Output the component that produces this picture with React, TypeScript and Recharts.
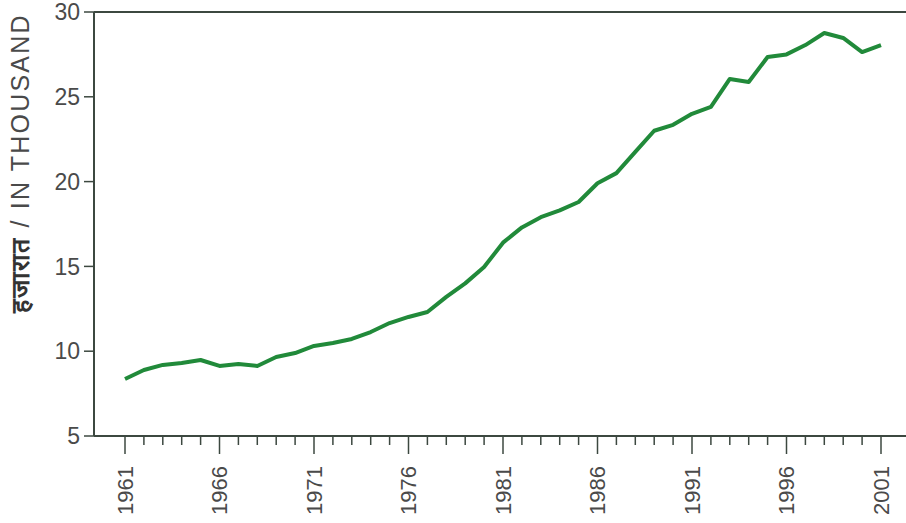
import { LineChart, Line, XAxis, YAxis, ReferenceLine } from 'recharts';

const YEARS = [
  1961, 1962, 1963, 1964, 1965, 1966, 1967, 1968, 1969, 1970,
  1971, 1972, 1973, 1974, 1975, 1976, 1977, 1978, 1979, 1980,
  1981, 1982, 1983, 1984, 1985, 1986, 1987, 1988, 1989, 1990,
  1991, 1992, 1993, 1994, 1995, 1996, 1997, 1998, 1999, 2000, 2001,
];

const VALUES = [
  8.36, 8.89, 9.19, 9.3, 9.48, 9.13, 9.25, 9.13, 9.66, 9.89,
  10.31, 10.48, 10.72, 11.13, 11.66, 12.02, 12.31, 13.2, 14.0, 14.96,
  16.4, 17.3, 17.9, 18.3, 18.8, 19.9, 20.5, 21.75, 23.0, 23.35,
  24.0, 24.4, 26.05, 25.87, 27.35, 27.5, 28.05, 28.76, 28.47, 27.64, 28.05,
];

const Y_TICKS = [5, 10, 15, 20, 25, 30];
const LABEL_YEARS = [1961, 1966, 1971, 1976, 1981, 1986, 1991, 1996, 2001];
const Y_LABEL_LOCAL = 'हजारात';
const Y_LABEL_EN = ' / IN THOUSAND';

const data = YEARS.map((year, i) => ({ year, value: VALUES[i] }));

const AXIS = '#3c4840';
const TEXT = '#4a4a4a';
const FONT = 'Liberation Sans, Arial, sans-serif';

const YearTick = (props: any) => {
  const { x, y, payload } = props;
  const major = LABEL_YEARS.includes(payload.value);
  return (
    <g>
      <line x1={x} x2={x} y1={y} y2={y + (major ? 18 : 9)} stroke={AXIS} strokeWidth={1.5} />
      {major && (
        <text
          x={x}
          y={y + 30}
          transform={`rotate(-90 ${x} ${y + 30})`}
          textAnchor="end"
          dominantBaseline="central"
          fill={TEXT}
          fontSize={22}
          fontFamily={FONT}
        >
          {payload.value}
        </text>
      )}
    </g>
  );
};

// axis title, centred beside the plot
const YTitle = (props: any) => {
  const { viewBox } = props;
  const cx = 20;
  const cy = viewBox.y + viewBox.height * 0.357;
  return (
    <text
      x={cx}
      y={cy}
      transform={`rotate(-90 ${cx} ${cy})`}
      textAnchor="middle"
      dominantBaseline="central"
      fill={TEXT}
      fontSize={25}
      fontFamily={FONT}
      letterSpacing={2.2}
    >
      <tspan fontWeight="bold" fill="#333">{Y_LABEL_LOCAL}</tspan>
      <tspan>{Y_LABEL_EN}</tspan>
    </text>
  );
};

export default function App() {
  return (
    <div style={{ position: 'absolute', left: 0, top: 0, background: '#fff' }}>
      <LineChart
        width={906}
        height={523}
        data={data}
        margin={{ top: 12, right: 0, left: 0, bottom: 0 }}
      >
        <XAxis
          dataKey="year"
          type="number"
          domain={[1961, 2001]}
          ticks={YEARS}
          interval={0}
          padding={{ left: 31, right: 25 }}
          height={87}
          tickSize={0}
          tickMargin={0}
          tickLine={false}
          tick={<YearTick />}
          axisLine={{ stroke: AXIS, strokeWidth: 2 }}
        />
        <YAxis
          type="number"
          domain={[5, 30]}
          ticks={Y_TICKS}
          interval={0}
          width={94}
          tickSize={10}
          tickMargin={4}
          axisLine={{ stroke: AXIS, strokeWidth: 2 }}
          tickLine={{ stroke: AXIS, strokeWidth: 1.5 }}
          tick={{ fill: TEXT, fontSize: 23, fontFamily: FONT }}
          label={<YTitle />}
        />
        <ReferenceLine y={30} stroke={AXIS} strokeWidth={2} />
        <Line
          type="linear"
          dataKey="value"
          stroke="#218a3a"
          strokeWidth={4}
          dot={false}
          isAnimationActive={false}
          strokeLinejoin="round"
        />
      </LineChart>
    </div>
  );
}
